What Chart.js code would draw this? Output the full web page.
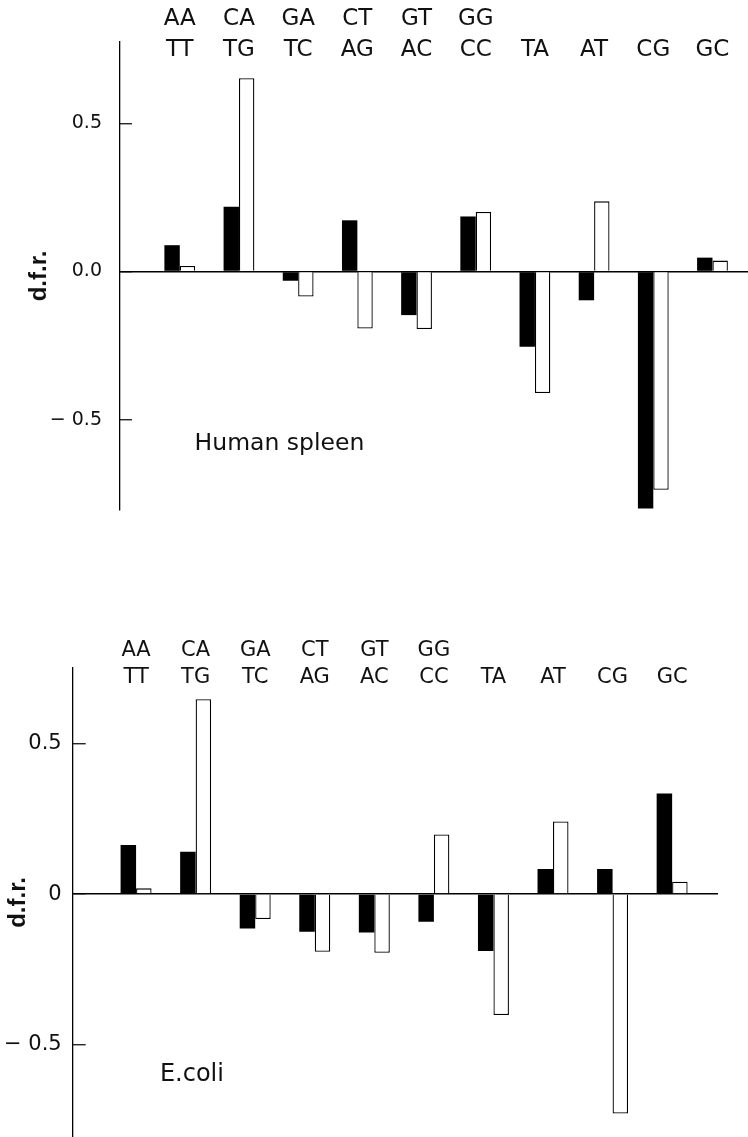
<!DOCTYPE html>
<html>
<head>
<meta charset="utf-8">
<script src="https://cdn.jsdelivr.net/npm/chart.js@4"></script>
<style>
  body { margin: 0; background: #fff; }
  .panel { position: absolute; left: 0; }
  #topPanel { top: 0; }
  #bottomPanel { top: 620px; }
</style>
</head>
<body>
<div class="panel" id="topPanel"><canvas id="spleen_chart" width="748" height="520"></canvas></div>
<div class="panel" id="bottomPanel"><canvas id="coli_chart" width="748" height="517"></canvas></div>
<script>
// dinucleotide pairs, upper and lower line of each label
const pairTop = ['AA', 'CA', 'GA', 'CT', 'GT', 'GG', '', '', '', ''];
const pairBottom = ['TT', 'TG', 'TC', 'AG', 'AC', 'CC', 'TA', 'AT', 'CG', 'GC'];

// d.f.r. values, human spleen
const spleenBlack = [0.089, 0.219, -0.031, 0.173, -0.147, 0.186, -0.254, -0.097, -0.800, 0.047];
const spleenWhite = [0.019, 0.653, -0.084, -0.192, -0.194, 0.201, -0.410, 0.237, -0.737, 0.037];

// d.f.r. values, E. coli
const coliBlack = [0.163, 0.141, -0.114, -0.125, -0.128, -0.092, -0.189, 0.083, 0.083, 0.334];
const coliWhite = [0.019, 0.647, -0.083, -0.192, -0.195, 0.198, -0.402, 0.241, -0.729, 0.041];

const yTicks = [-0.5, 0, 0.5];
const spleenTickLabels = ['\u2212 0.5', '0.0', '0.5'];
const coliTickLabels = ['\u2212 0.5', '0', '0.5'];

const FONT = '"DejaVu Sans", sans-serif';

// writes a caption at data coordinates
const noteText = {
    id: 'noteText',
    afterDraw(chart, args, opts) {
        const {ctx, scales: {x, y}} = chart;
        ctx.save();
        ctx.font = opts.size + 'px ' + FONT;
        ctx.fillStyle = '#111';
        ctx.textAlign = 'left';
        ctx.textBaseline = 'alphabetic';
        ctx.fillText(opts.text, x.getPixelForValue(opts.x), y.getPixelForValue(opts.y));
        ctx.restore();
    }
};

// lets the pair labels reach down beside the top of the y axis (labels are clipped to the scale box)
const labelRoom = {
    id: 'labelRoom',
    afterLayout(chart, args, opts) {
        chart.scales.x.bottom += opts.extra;
    }
};

function toPoints(values) {
    return values.map((v, i) => ({x: i, y: v}));
}

function buildChart(id, o) {
    return new Chart(document.getElementById(id), {
        type: 'bar',
        data: {
            datasets: [{
                data: toPoints(o.black),
                backgroundColor: '#000',
                borderColor: '#000',
                borderWidth: 0
            }, {
                data: toPoints(o.white),
                backgroundColor: '#fff',
                borderColor: '#000',
                borderWidth: 1.3
            }]
        },
        options: {
            responsive: false,
            animation: false,
            events: [],
            layout: {padding: {left: 0, top: 0, right: o.padRight, bottom: o.padBottom}},
            datasets: {bar: {categoryPercentage: 0.52, barPercentage: 1}},
            plugins: {
                legend: {display: false},
                tooltip: {enabled: false},
                noteText: o.note,
                labelRoom: {extra: 20}
            },
            scales: {
                x: {
                    type: 'linear',
                    position: 'top',
                    offset: false,
                    min: o.xMin,
                    max: o.xMax,
                    grid: {display: false, drawTicks: false, offset: false},
                    border: {display: false},
                    afterBuildTicks: s => { s.ticks = pairBottom.map((_, i) => ({value: i})); },
                    afterFit: s => { s.height = o.xHeight; s.paddingLeft = 0; s.paddingRight = 0; },
                    ticks: {
                        autoSkip: false,
                        maxRotation: 0,
                        padding: o.xPad,
                        color: '#111',
                        font: {family: FONT, size: o.xFont, lineHeight: o.xLine},
                        callback: (v, i) => pairTop[i] ? [pairTop[i], pairBottom[i]] : pairBottom[i]
                    }
                },
                y: {
                    min: o.yMin,
                    max: o.yMax,
                    afterBuildTicks: s => { s.ticks = yTicks.map(v => ({value: v})); },
                    afterFit: s => { s.width = o.yWidth; s.paddingTop = 0; s.paddingBottom = 0; },
                    border: {display: true, color: '#000', width: 1.3},
                    grid: {
                        color: c => c.tick && c.tick.value === 0 ? '#000' : 'rgba(0,0,0,0)',
                        lineWidth: 1.5,
                        tickColor: '#000',
                        tickWidth: 1.2,
                        tickLength: o.tickLen
                    },
                    ticks: {
                        padding: o.yPad,
                        color: '#111',
                        font: {family: FONT, size: o.yFont},
                        callback: (v, i) => o.yLabels[i]
                    },
                    title: {
                        display: true,
                        text: 'd.f.r.',
                        color: '#111',
                        font: {family: '"Liberation Sans", sans-serif', size: 24, weight: 'bold'},
                        padding: {top: o.titlePad, bottom: 0}
                    }
                }
            }
        },
        plugins: [noteText, labelRoom]
    });
}

const spleenChart = buildChart('spleen_chart', {
    black: spleenBlack,
    white: spleenWhite,
    xMin: -1.01, xMax: 9.6,
    yMin: -0.805, yMax: 0.775,
    padRight: 0, padBottom: 10,
    xHeight: 42, xPad: -3.5, xFont: 23, xLine: 1.35,
    yWidth: 120, yPad: 30, yFont: 19, tickLen: -12,
    yLabels: spleenTickLabels,
    titlePad: 25,
    note: {text: 'Human spleen', x: 0.25, y: -0.603, size: 23.5}
});

const coliChart = buildChart('coli_chart', {
    black: coliBlack,
    white: coliWhite,
    xMin: -1.064, xMax: 9.77,
    yMin: -0.807, yMax: 0.751,
    padRight: 30, padBottom: 0,
    xHeight: 48, xPad: -4, xFont: 21, xLine: 1.33,
    yWidth: 72.7, yPad: 24, yFont: 21, tickLen: -13,
    yLabels: coliTickLabels,
    titlePad: 4,
    note: {text: 'E.coli', x: 0.40, y: -0.62, size: 24}
});
</script>
</body>
</html>
